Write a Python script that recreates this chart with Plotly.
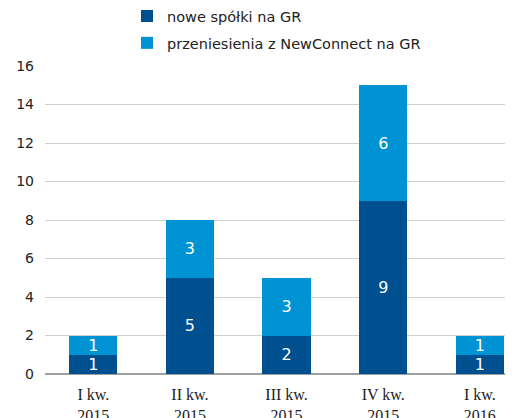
import plotly.graph_objects as go

categories = ["I kw.<br>2015", "II kw.<br>2015", "III kw.<br>2015", "IV kw.<br>2015", "I kw.<br>2016"]
nowe = [1, 5, 2, 9, 1]
przeniesienia = [1, 3, 3, 6, 1]
series_names = ["nowe spółki na GR", "przeniesienia z NewConnect na GR"]
y_ticks = [0, 2, 4, 6, 8, 10, 12, 14, 16]

dark = "#00508F"
light = "#0093D4"

fig = go.Figure()
for vals, name, col, grp in [(nowe, series_names[0], dark, "a"), (przeniesienia, series_names[1], light, "b")]:
    fig.add_trace(go.Bar(
        x=categories, y=vals, name=name, marker=dict(color=col, line=dict(width=0)),
        text=vals, textposition="inside", insidetextanchor="middle", textangle=0,
        constraintext="none", cliponaxis=False,
        textfont=dict(color="white", size=16, family="DejaVu Sans"), legendgroup=grp,
    ))

fig.update_layout(
    barmode="stack",
    bargap=0.5,
    width=513, height=418,
    margin=dict(l=37, r=8, t=58, b=52, autoexpand=False),
    paper_bgcolor="white", plot_bgcolor="white",
    showlegend=True,
    legend=dict(
        x=0.232, y=1.214, xref="container", yref="paper", xanchor="left", yanchor="top",
        orientation="v", traceorder="grouped", tracegroupgap=5,
        font=dict(family="DejaVu Sans", size=14.5, color="#222222"),
        itemwidth=30,
    ),
    xaxis=dict(
        range=[-0.5, 4.343], tickfont=dict(family="Liberation Serif", size=16, color="#222222"),
        showgrid=False, showline=False, ticks="", automargin=False,
        ticklabelstandoff=9,
    ),
    yaxis=dict(
        range=[0, 16], tickvals=y_ticks, showgrid=True, gridcolor="#D0D0D0", gridwidth=1,
        zeroline=True, zerolinecolor="#A0A0A0", zerolinewidth=2, automargin=False,
        tickfont=dict(family="DejaVu Sans", size=14, color="#222222"), ticks="",
        ticklabelstandoff=10,
    ),
)

fig.write_html("out.html")
